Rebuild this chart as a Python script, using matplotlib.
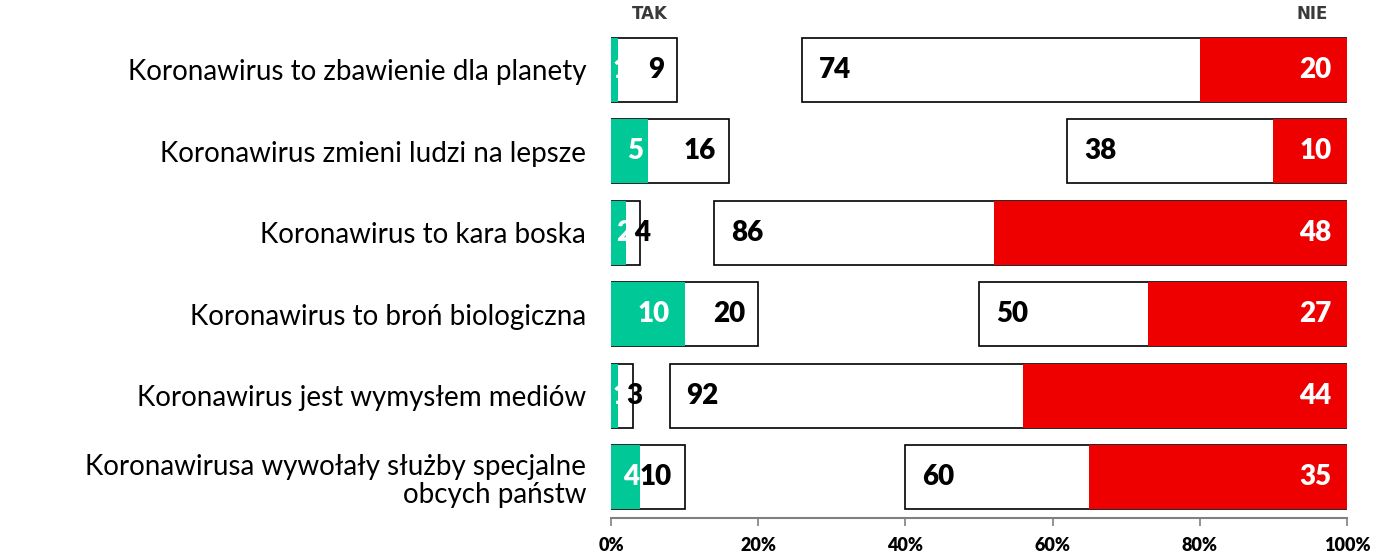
import numpy as np
import matplotlib.pyplot as plt
from matplotlib import font_manager

# survey statements and answers (percent)
labels = ["Koronawirus to zbawienie dla planety",
          "Koronawirus zmieni ludzi na lepsze",
          "Koronawirus to kara boska",
          "Koronawirus to broń biologiczna",
          "Koronawirus jest wymysłem mediów",
          "Koronawirusa wywołały służby specjalne\nobcych państw"]
tak_strong = [1, 5, 2, 10, 1, 4]     # zdecydowanie tak
tak_total = [9, 16, 4, 20, 3, 10]    # tak razem
nie_total = [74, 38, 86, 50, 92, 60]  # nie razem
nie_strong = [20, 10, 48, 27, 44, 35]  # zdecydowanie nie
ticks = [0, 20, 40, 60, 80, 100]

GREEN = "#00C896"
RED = "#EE0000"

names = {f.name for f in font_manager.fontManager.ttflist}
fam = "Lato" if "Lato" in names else "DejaVu Sans"

fig = plt.figure(figsize=(13.78, 5.59), dpi=100)
ax = fig.add_axes([0.4434, 0.0733, 0.5341, 0.8747])

y = np.arange(len(labels))
h = 0.786

ax.barh(y, tak_total, height=h, color="white", edgecolor="black", lw=1.2, zorder=2)
ax.barh(y, tak_strong, height=h, color=GREEN, lw=0, zorder=3)
ax.barh(y, nie_total, left=[100 - v for v in nie_total], height=h,
        color="white", edgecolor="black", lw=1.2, zorder=2)
ax.barh(y, nie_strong, left=[100 - v for v in nie_strong], height=h,
        color=RED, lw=0, zorder=3)

vfont = dict(fontsize=20, fontweight=800, family=fam, va="center", zorder=5)
for i in range(len(labels)):
    # green labels
    ax.annotate(str(tak_strong[i]), (tak_strong[i] / 2, i), xytext=(4, 0),
                textcoords="offset points", ha="center", color="white", **vfont)
    # TAK total
    if tak_total[i] - tak_strong[i] > 4:
        ax.annotate(str(tak_total[i]), (tak_total[i], i), xytext=(-9, 0),
                    textcoords="offset points", ha="right", color="black", **vfont)
    else:
        ax.annotate(str(tak_total[i]), (tak_strong[i], i), xytext=(6, 0),
                    textcoords="offset points", ha="left", color="black", **vfont)
    # NIE total
    ax.annotate(str(nie_total[i]), (100 - nie_total[i], i), xytext=(12, 0),
                textcoords="offset points", ha="left", color="black", **vfont)
    # NIE strong
    ax.annotate(str(nie_strong[i]), (100, i), xytext=(-11, 0),
                textcoords="offset points", ha="right", color="white", **vfont)

ax.set_xlim(0, 100)
ax.set_ylim(len(labels) - 0.5, -0.5)
ax.set_yticks(y)
ax.set_yticklabels(labels, fontsize=20, family=fam, fontweight=400,
                   color="black", ha="right", multialignment="right",
                   linespacing=1.1)
ax.tick_params(axis="y", length=0, pad=18)
ax.set_xticks(ticks)
ax.set_xticklabels([f"{t}%" for t in ticks], fontsize=13, fontweight=800,
                   family=fam)
ax.tick_params(axis="x", direction="out", length=6, width=1.2, color="#808080", pad=8)

for s in ["top", "left", "right"]:
    ax.spines[s].set_visible(False)
ax.spines["bottom"].set_color("#808080")
ax.spines["bottom"].set_linewidth(1.5)

ax.text(0.053, 1.03, "TAK", transform=ax.transAxes, ha="center", va="center",
        fontsize=12, fontweight="bold", family="DejaVu Sans", color="#3a3a3a")
ax.text(0.953, 1.03, "NIE", transform=ax.transAxes, ha="center", va="center",
        fontsize=12, fontweight="bold", family="DejaVu Sans", color="#3a3a3a")

fig.savefig("out.png", dpi=100)
